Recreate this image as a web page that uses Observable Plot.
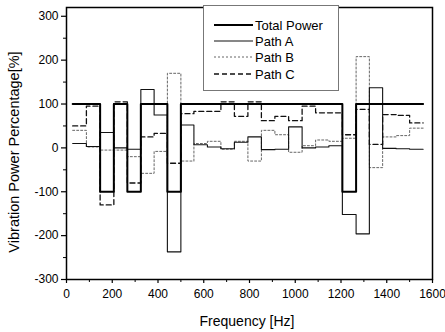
<!DOCTYPE html>
<html><head><meta charset="utf-8">
<script src="https://cdn.jsdelivr.net/npm/d3@7"></script>
<script src="https://cdn.jsdelivr.net/npm/@observablehq/plot@0.6"></script>
<style>
body{margin:0;background:#fff;font-family:"Liberation Sans",Arial,sans-serif;}
#wrap{position:relative;width:445px;height:332px;}
#legend{position:absolute;left:203px;top:5px;width:136px;height:86px;background:#fff;border:1px solid #777;box-sizing:border-box;}
.row{position:absolute;left:10px;height:16px;display:flex;align-items:center;font-size:13px;color:#000;}
.row svg{margin-right:2px;}
.lab{position:absolute;white-space:nowrap;color:#000;font-family:"Liberation Sans",Arial,sans-serif;}
#ylab{left:14px;top:152px;font-size:14.5px;transform:translate(-50%,-50%) rotate(-90deg);}
#xlab{left:247px;top:321px;font-size:14px;transform:translate(-50%,-50%);}
</style></head>
<body><div id="wrap"><div id="legend"></div><div id="ylab" class="lab"></div><div id="xlab" class="lab"></div></div>
<script>
// bin edges (Hz)
const edges = [27, 87, 147, 207, 266, 325, 383, 441, 500, 557, 616, 675, 734, 793, 852, 911, 971, 1030, 1089, 1147, 1206, 1266, 1324, 1382, 1441, 1500, 1559];
// per-bin values (%)
const totalPower = [100, 100, -100, 100, -100, 100, 100, -100, 100, 100, 100, 100, 100, 100, 100, 100, 100, 100, 100, 100, -100, 100, 100, 100, 100, 100];
const pathA = [10, 3, 35, 0, -3, 133, 75, -237, 52, 7, 2, -2, 13, 25, -4, -3, 48, 0, 2, 5, -152, -196, 137, -1, -2, -3];
const pathB = [40, 2, -5, -5, -20, -58, -8, 170, -30, 10, 15, -3, 15, -30, 40, 30, -10, 5, 18, 15, 22, 208, -45, 25, 28, 45];
const pathC = [50, 95, -130, 105, -80, 25, 33, -35, 78, 83, 83, 105, 72, 105, 62, 72, 62, 95, 80, 80, 30, 88, 8, 76, 74, 57];
const yTicks = [-300, -200, -100, 0, 100, 200, 300];
const xTicks = [0, 200, 400, 600, 800, 1000, 1200, 1400, 1600];
const seriesNames = ["Total Power", "Path A", "Path B", "Path C"];
const yTitle = "Vibration Power Percentage[%]";
const xTitle = "Frequency [Hz]";

function steps(vals){
  const pts = vals.map((v,i)=>({x:edges[i], y:v}));
  pts.push({x:edges[edges.length-1], y:vals[vals.length-1]});
  return pts;
}
const styles = {
  "Total Power": {stroke:"#000", strokeWidth:2, dash:null},
  "Path A": {stroke:"#111", strokeWidth:1.1, dash:null},
  "Path B": {stroke:"#666", strokeWidth:1, dash:"2,2"},
  "Path C": {stroke:"#111", strokeWidth:1.3, dash:"5,3"}
};
const dataMap = {"Total Power": totalPower, "Path A": pathA, "Path B": pathB, "Path C": pathC};
const drawOrder = ["Path B", "Path C", "Path A", "Total Power"];

const chart = Plot.plot({
  width: 445, height: 332,
  marginLeft: 66, marginRight: 13, marginTop: 7, marginBottom: 53,
  style: {fontFamily: "Liberation Sans, Arial, sans-serif", background: "#fff"},
  x: {domain: [0, 1600]},
  y: {domain: [-300, 320]},
  marks: [
    ...drawOrder.map(n => Plot.line(steps(dataMap[n]), {x:"x", y:"y", curve:"step-after",
        stroke: styles[n].stroke, strokeWidth: styles[n].strokeWidth, strokeDasharray: styles[n].dash})),
    Plot.frame({stroke:"#000", strokeWidth:1.5}),
    Plot.axisY({ticks: yTicks, tickSize: 5, tickFormat: d => String(d), fontSize: 12, label: null, tickPadding: 3, strokeWidth: 1.2}),
    Plot.axisY({ticks: d3.range(-250, 301, 100), tickSize: 3, text: null, label: null}),
    Plot.axisX({ticks: xTicks, tickSize: 4, tickFormat: d => String(d), fontSize: 12, label: null, tickPadding: 6, strokeWidth: 1.2}),
    Plot.axisX({ticks: d3.range(100, 1600, 200), tickSize: 3, text: null, label: null})
  ]
});
const wrap = document.getElementById("wrap");
wrap.insertBefore(chart, wrap.firstChild);
document.getElementById("ylab").textContent = yTitle;
document.getElementById("xlab").textContent = xTitle;

const legend = document.getElementById("legend");
const rowTops = [11, 27, 43, 60];
seriesNames.forEach((n, i) => {
  const row = document.createElement("div");
  row.className = "row";
  row.style.top = rowTops[i] + "px";
  const s = styles[n];
  row.innerHTML = `<svg width="39" height="10"><line x1="0" x2="39" y1="5" y2="5" stroke="${s.stroke}" stroke-width="${n==="Total Power"?1.8:s.strokeWidth}" ${s.dash?`stroke-dasharray="${s.dash}"`:""}/></svg><span>${n}</span>`;
  legend.appendChild(row);
});
</script>
</body></html>
